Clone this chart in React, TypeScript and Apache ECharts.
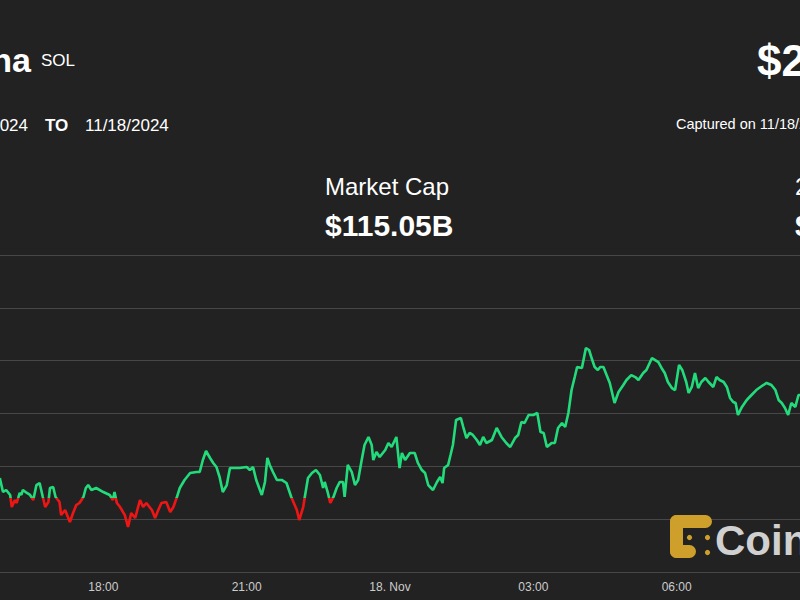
import React, { useEffect, useRef } from "react";
import * as echarts from "echarts";

// minutes after 2024-11-17 15:50 UTC
const minutesFromStart = [
  0, 4, 8, 13, 15, 19, 21, 23, 25, 27, 29, 34, 38, 42, 46, 50, 54, 57, 61, 63, 67, 70, 75, 77, 82, 88, 92, 96, 100,
  105, 108, 111, 115, 121, 130, 138, 142, 144, 147, 151, 157, 161, 165, 170, 176, 180, 184, 191, 195, 199, 203, 209,
  214, 218, 222, 226, 232, 239, 247, 251, 255, 259, 264, 268, 272, 276, 280, 285, 289, 293, 301, 310, 314, 318, 322,
  329, 333, 336, 339, 343, 348, 354, 360, 366, 373, 376, 381, 383, 387, 392, 397, 402, 406, 408, 412, 415, 419, 423,
  427, 431, 433, 437, 442, 446, 450, 454, 458, 463, 467, 469, 473, 477, 484, 488, 492, 498, 502, 505, 509, 515, 521,
  525, 530, 534, 538, 544, 549, 553, 556, 558, 563, 566, 569, 573, 579, 582, 586, 590, 594, 599, 603, 607, 611, 618,
  624, 630, 636, 641, 647, 651, 655, 659, 664, 670, 675, 679, 683, 687, 693, 697, 701, 706, 710, 714, 718, 722, 725,
  731, 733, 736, 740, 744, 747, 751, 754, 758, 762, 766, 772, 777, 783, 787, 793, 798, 802, 808, 812, 819, 823, 827,
  831, 835, 839, 844, 848, 853, 857, 862, 865, 869, 873, 877, 881, 886, 890, 896, 900, 904, 909, 913, 917, 921, 924,
  927, 932, 938, 944, 950, 957, 963, 969, 974, 978, 982, 986, 990, 994, 999, 1003, 1005,
];

const prices = [
  233.9, 232.57, 232.76, 232.29, 231.15, 231.81, 231.53, 232.0, 232.48, 232.29, 232.76, 232.48, 232.29, 231.81, 233.23,
  233.42, 232.1, 231.15, 231.62, 232.95, 233.04, 232.1, 231.62, 230.39, 230.87, 229.73, 230.58, 231.34, 231.53, 232.1,
  232.95, 233.23, 232.76, 232.95, 232.57, 232.29, 231.81, 232.57, 231.53, 231.15, 230.39, 229.26, 230.58, 230.11,
  231.81, 231.15, 231.53, 230.87, 230.11, 230.87, 231.53, 231.62, 230.68, 231.15, 232.0, 232.95, 233.71, 234.37,
  234.46, 234.46, 235.6, 236.45, 235.79, 235.32, 234.94, 233.99, 232.57, 233.23, 234.84, 234.84, 234.84, 234.94,
  234.65, 234.94, 233.71, 232.29, 233.52, 235.79, 235.13, 234.46, 233.71, 233.71, 233.42, 232.1, 230.87, 229.92,
  231.15, 232.1, 233.9, 234.37, 234.65, 234.18, 232.95, 233.52, 232.48, 231.53, 232.1, 232.95, 233.52, 233.52, 232.1,
  235.13, 234.46, 233.23, 233.71, 235.41, 237.02, 237.78, 237.02, 235.6, 236.36, 235.88, 236.55, 237.21, 236.83,
  237.78, 234.84, 236.26, 235.6, 236.26, 236.26, 235.32, 234.65, 234.37, 233.23, 232.76, 233.52, 233.99, 233.42,
  234.84, 235.13, 236.07, 237.02, 239.39, 239.57, 238.72, 237.68, 238.16, 237.97, 237.49, 237.02, 237.78, 237.21,
  237.49, 238.63, 237.78, 237.21, 236.83, 237.68, 237.97, 239.2, 239.1, 239.86, 239.86, 240.05, 238.25, 238.16,
  236.83, 237.21, 237.21, 238.63, 239.1, 238.72, 240.05, 242.22, 243.45, 244.4, 244.31, 245.06, 246.2, 246.01, 245.06,
  244.4, 244.12, 244.4, 244.4, 243.64, 242.89, 240.99, 242.04, 242.7, 243.17, 243.64, 243.45, 243.17, 243.83, 244.12,
  245.25, 245.06, 244.87, 244.31, 243.83, 242.98, 242.41, 242.22, 244.59, 244.12, 242.98, 241.94, 242.51, 243.83,
  242.41, 242.98, 243.36, 242.98, 242.51, 243.45, 243.17, 242.98, 242.51, 241.47, 241.09, 240.99, 239.86, 240.62,
  241.28, 241.75, 242.22, 242.6, 242.89, 242.7, 242.22, 241.28, 240.99, 240.52, 239.86, 240.99, 240.62, 241.75, 241.75,
];

const START_UTC = Date.UTC(2024, 10, 17, 15, 50);
const AXIS_MIN = Date.UTC(2024, 10, 17, 15, 0);
const AXIS_MAX = Date.UTC(2024, 10, 18, 9, 0);
const THREE_HOURS = 3 * 3600 * 1000;
const baselinePrice = 232.05;
const yMin = 225;
const yMax = 255;
const yStep = 5;

const assetName = "Solana";
const assetSymbol = "SOL";
const priceText = "$242.75";
const fromDate = "11/17/2024";
const toDate = "11/18/2024";
const capturedText = "Captured on 11/18/2024 08:35 UTC";
const marketCapLabel = "Market Cap";
const marketCapValue = "$115.05B";
const volumeLabel = "24h Volume";
const volumeValue = "$4.41B";

const FONT = '"Liberation Sans", Arial, sans-serif';
const GREEN = "#22dc7c";
const RED = "#f01515";
const GRID = "#474747";

// the chart canvas extends past the visible 800px window (cropped view)
const OFF_LEFT = 40;
const OFF_RIGHT = 20;

function txt(text: string, x: number, y: number, size: number, bold: boolean, align: string, fill = "#ffffff", z = 10) {
  return {
    type: "text",
    x: x + OFF_LEFT,
    y,
    z,
    style: {
      text,
      fill,
      font: `${bold ? "bold " : ""}${size}px ${FONT}`,
      textAlign: align,
      textVerticalAlign: "middle",
      align,
      verticalAlign: "middle",
    },
  };
}

export default function App() {
  const ref = useRef<HTMLDivElement>(null);
  useEffect(() => {
    document.body.style.margin = "0";
    const chart = echarts.init(ref.current!, null, { renderer: "svg" });
    const data = minutesFromStart.map((m, i) => [START_UTC + m * 60000, prices[i]]);
    const gold = "#cf9f2b";
    const L = OFF_LEFT;
    chart.setOption({
      animation: false,
      backgroundColor: "#222222",
      grid: { left: 0, right: 0, top: 255, bottom: 28, containLabel: false, outerBoundsMode: "none" },
      xAxis: {
        type: "value",
        min: AXIS_MIN,
        max: AXIS_MAX,
        interval: THREE_HOURS,
        splitLine: { show: false },
        axisTick: { show: false },
        axisLine: { lineStyle: { color: GRID, width: 1 } },
        axisLabel: {
          color: "#cccccc",
          fontSize: 12,
          fontFamily: FONT,
          margin: 9,
          showMinLabel: false,
          showMaxLabel: false,
          formatter: (v: number) => {
            const d = new Date(v);
            const h = d.getUTCHours();
            const m = d.getUTCMinutes();
            if (h === 0 && m === 0) return `${d.getUTCDate()}. Nov`;
            return `${String(h).padStart(2, "0")}:${String(m).padStart(2, "0")}`;
          },
        },
      },
      yAxis: {
        type: "value",
        position: "right",
        min: yMin,
        max: yMax,
        interval: yStep,
        axisLabel: { show: false },
        axisLine: { show: false },
        axisTick: { show: false },
        splitLine: { lineStyle: { color: GRID, width: 1 } },
      },
      visualMap: {
        type: "piecewise",
        show: false,
        dimension: 1,
        seriesIndex: 0,
        pieces: [
          { gt: 200, lte: baselinePrice, color: RED },
          { gt: baselinePrice, lte: 300, color: GREEN },
        ],
      },
      series: [
        {
          type: "line",
          data,
          showSymbol: false,
          symbol: "none",
          lineStyle: { width: 2.6 },
          z: 5,
        },
      ],
      graphic: [
        txt(assetName, 31, 60, 34, true, "right"),
        txt(assetSymbol, 41, 60, 17, false, "left"),
        txt(priceText, 757, 60, 44, true, "left"),
        txt(fromDate, 28, 125, 17, false, "right"),
        txt("TO", 45, 125, 17, true, "left"),
        txt(toDate, 85, 125, 17, false, "left"),
        txt(capturedText, 676, 124, 14.5, false, "left"),
        txt(marketCapLabel, 325, 186, 24, false, "left"),
        txt(marketCapValue, 325, 225.5, 30, true, "left"),
        txt(volumeLabel, 795, 186, 24, false, "left"),
        txt(volumeValue, 795, 225.5, 30, true, "left"),
        { type: "rect", z: 100, shape: { x: 670 + L, y: 515, width: 42, height: 13, r: 6.5 }, style: { fill: gold } },
        { type: "rect", z: 100, shape: { x: 670 + L, y: 515, width: 13, height: 43, r: 6.5 }, style: { fill: gold } },
        { type: "rect", z: 100, shape: { x: 670 + L, y: 545, width: 26, height: 13, r: 6.5 }, style: { fill: gold } },
        { type: "circle", z: 100, shape: { cx: 689.5 + L, cy: 537.5, r: 2.6 }, style: { fill: gold } },
        { type: "circle", z: 100, shape: { cx: 707.5 + L, cy: 537.5, r: 2.6 }, style: { fill: gold } },
        { type: "circle", z: 100, shape: { cx: 707.5 + L, cy: 552.5, r: 2.6 }, style: { fill: gold } },
        txt("CoinDesk", 715, 540, 42, true, "left", "#d0d0d0", 100),
      ],
    });
    return () => chart.dispose();
  }, []);
  return (
    <div style={{ position: "relative", width: 800, height: 600, overflow: "hidden", background: "#222222" }}>
      <div
        ref={ref}
        style={{ position: "absolute", left: -OFF_LEFT, top: 0, width: 800 + OFF_LEFT + OFF_RIGHT, height: 600 }}
      />
    </div>
  );
}
